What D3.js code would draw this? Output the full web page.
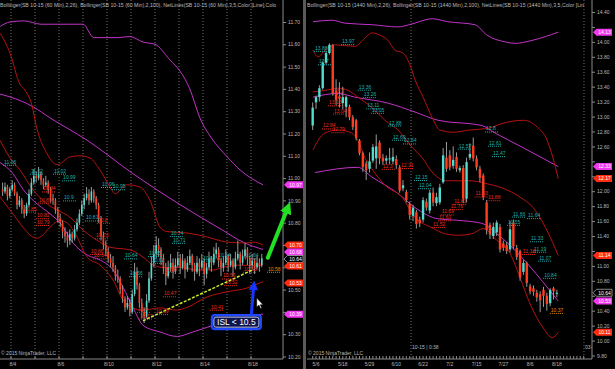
<!DOCTYPE html>
<html>
<head>
<meta charset="utf-8">
<script src="https://cdn.jsdelivr.net/npm/d3@7"></script>
<style>
body { margin: 0; background: #000; }
</style>
</head>
<body>
<div id="chart"></div>
<script>
var width = 615, height = 369;
var font = "'Liberation Sans', Arial, sans-serif";
var upCol = "#52dccf", downCol = "#ff3d1f", wickCol = "#9a9a9a";
var bandRed = "#b51212", bandMag = "#c233c8";
var netCol = { c: "#1fb0ad", r: "#ee2a1c", o: "#e38c00" };
var tagCol = { m: "#f038f0", r: "#ff2c10", k: "#000" };
var textCol = "#b8b8b8";

// ---- 60 min bars [open, high, low, close]
var leftBars = [
  [10.95,10.98,10.92,10.94],[10.94,10.98,10.93,10.96],[10.96,10.97,10.90,10.92],[10.92,10.96,10.91,10.95],
  [10.95,10.99,10.94,10.97],[10.97,10.98,10.92,10.93],[10.93,10.94,10.86,10.88],[10.88,10.92,10.87,10.90],
  [10.90,10.91,10.84,10.86],[10.86,10.88,10.82,10.84],[10.84,10.89,10.83,10.88],[10.88,10.95,10.87,10.93],
  [10.93,11.00,10.92,10.98],[10.98,11.04,10.97,11.01],[11.01,11.03,10.98,11.00],[11.00,11.05,10.99,11.02],
  [11.02,11.03,10.97,10.99],[10.99,11.00,10.95,10.97],[10.97,11.01,10.96,10.98],[10.98,10.99,10.93,10.95],
  [10.95,10.96,10.89,10.91],[10.91,10.93,10.88,10.90],[10.90,10.91,10.84,10.86],[10.86,10.87,10.80,10.82],
  [10.82,10.84,10.78,10.80],[10.80,10.81,10.73,10.76],[10.76,10.78,10.71,10.74],[10.74,10.76,10.69,10.72],
  [10.72,10.77,10.70,10.75],[10.75,10.76,10.71,10.73],[10.73,10.79,10.72,10.77],[10.77,10.82,10.76,10.80],
  [10.80,10.86,10.79,10.84],[10.84,10.90,10.83,10.88],[10.88,10.93,10.86,10.91],[10.91,10.96,10.90,10.93],
  [10.93,10.95,10.88,10.90],[10.90,10.96,10.89,10.94],[10.94,10.95,10.89,10.91],[10.91,10.92,10.86,10.88],
  [10.88,10.89,10.80,10.82],[10.82,10.83,10.72,10.74],[10.74,10.76,10.68,10.70],[10.70,10.72,10.65,10.67],
  [10.67,10.69,10.62,10.64],[10.64,10.66,10.60,10.62],[10.62,10.65,10.58,10.60],[10.60,10.61,10.54,10.56],
  [10.56,10.59,10.53,10.55],[10.55,10.56,10.48,10.50],[10.50,10.52,10.44,10.46],[10.46,10.47,10.40,10.42],
  [10.42,10.47,10.41,10.44],[10.44,10.46,10.38,10.40],[10.40,10.50,10.39,10.48],[10.48,10.62,10.47,10.58],
  [10.58,10.60,10.50,10.52],[10.52,10.53,10.42,10.44],[10.44,10.46,10.37,10.40],[10.40,10.42,10.35,10.38],
  [10.38,10.48,10.37,10.45],[10.45,10.58,10.44,10.55],[10.55,10.65,10.54,10.62],[10.62,10.70,10.60,10.66],
  [10.66,10.74,10.64,10.70],[10.70,10.73,10.65,10.68],[10.68,10.69,10.61,10.64],[10.64,10.66,10.57,10.60],
  [10.60,10.62,10.52,10.56],[10.56,10.63,10.55,10.60],[10.60,10.66,10.58,10.62],[10.62,10.64,10.55,10.58],
  [10.58,10.64,10.57,10.61],[10.61,10.67,10.60,10.64],[10.64,10.66,10.57,10.60],[10.60,10.66,10.59,10.63],
  [10.63,10.64,10.55,10.59],[10.59,10.65,10.58,10.62],[10.62,10.68,10.61,10.65],[10.65,10.66,10.58,10.61],
  [10.61,10.62,10.54,10.58],[10.58,10.65,10.57,10.62],[10.62,10.64,10.56,10.60],[10.60,10.66,10.59,10.63],
  [10.63,10.64,10.52,10.57],[10.57,10.62,10.55,10.60],[10.60,10.67,10.59,10.64],[10.64,10.65,10.58,10.62],
  [10.62,10.69,10.61,10.66],[10.66,10.71,10.64,10.68],[10.68,10.69,10.60,10.63],[10.63,10.64,10.56,10.60],
  [10.60,10.65,10.58,10.62],[10.62,10.68,10.61,10.65],[10.65,10.66,10.58,10.61],[10.61,10.66,10.60,10.63],
  [10.63,10.64,10.56,10.60],[10.60,10.67,10.59,10.64],[10.64,10.72,10.63,10.66],[10.66,10.67,10.59,10.62],
  [10.62,10.68,10.61,10.65],[10.65,10.71,10.64,10.68],[10.68,10.69,10.61,10.64],[10.64,10.65,10.57,10.61],
  [10.61,10.66,10.59,10.63],[10.63,10.64,10.57,10.60],[10.60,10.65,10.59,10.62],[10.62,10.64,10.58,10.61],
  [10.61,10.66,10.60,10.64]
];

// ---- daily bars [open, high, low, close]
var rightBars = [
  [12.88,13.19,12.82,13.12],[13.19,13.28,13.10,13.26],[13.26,13.42,13.20,13.38],[13.38,13.74,13.36,13.72],
  [13.72,13.88,13.70,13.85],[13.85,13.98,13.83,13.96],[13.96,13.97,13.28,13.31],[13.35,13.50,13.15,13.22],
  [13.27,13.46,13.12,13.24],[13.18,13.40,13.10,13.26],[13.13,13.28,12.99,13.26],[13.13,13.16,12.95,12.99],
  [12.99,13.02,12.82,12.86],[12.95,12.97,12.68,12.71],[12.68,12.70,12.48,12.51],[12.51,12.53,12.26,12.32],
  [12.37,12.40,12.15,12.28],[12.30,12.52,12.25,12.40],[12.41,12.63,12.38,12.59],[12.44,12.76,12.30,12.60],
  [12.65,12.68,12.36,12.44],[12.45,12.50,12.35,12.40],[12.41,12.48,12.36,12.44],[12.43,12.58,12.36,12.44],
  [12.40,12.58,12.36,12.46],[12.43,12.48,12.30,12.35],[12.32,12.35,11.98,12.01],[12.04,12.15,12.00,12.08],
  [11.99,12.02,11.85,11.88],[11.83,11.86,11.62,11.68],[11.67,11.82,11.60,11.78],[11.72,11.75,11.50,11.56],
  [11.62,11.66,11.52,11.57],[11.62,11.92,11.58,11.88],[11.86,11.90,11.74,11.78],[11.74,12.02,11.70,11.98],
  [11.98,12.05,11.80,11.85],[11.84,11.98,11.80,11.92],[11.85,12.10,11.82,12.05],[12.12,12.58,12.10,12.48],
  [12.45,12.66,12.26,12.30],[12.48,12.55,12.28,12.32],[12.34,12.60,12.30,12.42],[12.46,12.52,12.26,12.30],
  [12.28,12.34,12.25,12.31],[12.31,12.35,11.84,11.90],[11.90,12.45,11.85,12.39],[12.45,12.64,12.42,12.50],
  [12.61,12.72,12.40,12.44],[12.44,12.48,12.28,12.32],[12.30,12.34,12.12,12.18],[12.21,12.24,11.88,11.92],
  [11.85,11.88,11.42,11.48],[11.55,11.58,11.36,11.42],[11.40,11.58,11.36,11.52],[11.45,11.61,11.40,11.58],
  [11.52,11.56,11.18,11.22],[11.30,11.34,11.20,11.24],[11.28,11.32,11.16,11.20],[11.22,11.60,11.18,11.49],
  [11.58,11.62,11.22,11.26],[11.24,11.28,11.08,11.12],[11.20,11.22,10.80,10.84],[10.92,11.08,10.88,11.04],
  [11.04,11.06,10.72,10.77],[10.73,10.76,10.62,10.66],[10.70,10.74,10.60,10.65],[10.64,10.68,10.52,10.58],
  [10.62,10.66,10.38,10.54],[10.68,10.72,10.45,10.60],[10.60,10.64,10.40,10.49],[10.50,10.70,10.46,10.68],
  [10.70,10.72,10.55,10.66],[10.63,10.68,10.58,10.64]
];

// ---- dates
var leftDays = ["8/4", "8/6", "8/10", "8/12", "8/14", "8/18"];
var leftDayBars = [4, 24, 44, 64, 84, 104];
var leftSessionBars = [4, 14, 24, 34, 44, 54, 64, 74, 84, 94, 104];
var rightDays = ["5/6", "5/18", "5/29", "6/10", "6/22", "7/2", "7/15", "7/27", "8/6", "8/18"];
var rightDayBars = [1, 9, 17, 25, 33, 41, 49, 57, 65, 73];
var rightMarkBars = [29.9, 81.6];

// ---- Bollinger bands [bar, value]
var leftUpper26 = [[-1,11.65],[3.1,11.56],[7.25,11.42],[9.3,11.395],[12.7,11.305],[13.5,11.26],[18.5,11.11],[22.7,11.06],[28.1,11.095],[32.25,11.10],[36.4,11.09],[40.6,11.036],[44.75,10.96],[46.8,10.93],[51.8,10.97],[57.25,10.96],[61.4,10.90],[65.6,10.78],[68.5,10.76],[76.8,10.754],[85.2,10.736],[93.5,10.713],[101.8,10.709],[104.4,10.713],[108.5,10.70]];
var leftMid26 = [[-1.1,11.17],[3.1,11.09],[7.25,11.036],[12.7,10.947],[19.75,10.875],[23.9,10.85],[26.8,10.835],[33.5,10.767],[40.6,10.713],[44.75,10.69],[53.1,10.678],[58.5,10.646],[62.7,10.61],[68.5,10.597],[73.9,10.60],[81,10.588],[87.7,10.588],[91.8,10.60],[98.9,10.61],[106,10.606],[108.5,10.612]];
var leftLower26 = [[-1.1,10.915],[3.1,10.857],[8.5,10.78],[11.4,10.745],[14.3,10.73],[16.8,10.745],[19.75,10.78],[23.9,10.81],[26.8,10.80],[31,10.736],[35.2,10.646],[40.6,10.61],[46,10.543],[50.2,10.453],[54.3,10.418],[58.5,10.408],[65.6,10.418],[72.6,10.408],[76.8,10.42],[85.2,10.467],[93.5,10.49],[101.8,10.507],[106,10.525],[108.5,10.535]];
var leftUpper100 = [[-1,11.68],[3,11.70],[9,11.705],[16,11.69],[27,11.69],[33.5,11.69],[38,11.63],[48,11.63],[53,11.635],[58.5,11.61],[63.5,11.60],[69.7,11.53],[73.9,11.48],[78,11.40],[82.2,11.27],[87,11.18],[93.6,11.095],[99,11.036],[108.5,10.97]];
var leftMid100 = [[-1.1,11.377],[3.1,11.364],[12.7,11.32],[19.75,11.27],[35.2,11.17],[54.3,11.02],[72.6,10.89],[91.1,10.77],[100.7,10.71],[108.5,10.68]];
var leftLower100 = [[-1.1,11.07],[4.3,11.02],[8.5,10.95],[12.7,10.90],[19.75,10.84],[23.9,10.80],[29.3,10.71],[35.2,10.655],[40.6,10.633],[46,10.588],[50.2,10.51],[54.3,10.42],[58.5,10.34],[65.6,10.31],[72.6,10.29],[79.3,10.31],[87.75,10.34],[96.1,10.37],[104.4,10.386],[108.5,10.39]];

var rightUpper26 = [[0.1,13.89],[1.6,13.80],[3.7,13.89],[6.7,13.96],[12.6,13.94],[15.6,14.05],[17.7,14.12],[20.1,14.09],[22.5,14.02],[24.6,13.89],[27,13.85],[29.1,13.69],[30.6,13.49],[33,13.26],[35.7,12.99],[38,12.82],[42,12.79],[47,12.82],[52.1,12.84],[56.9,12.91],[62.9,12.95],[67.1,12.86],[70.1,12.68],[71.8,12.45],[73.4,12.17]];
var rightMid26 = [[0,13.33],[3.7,13.35],[7.6,13.38],[10.6,13.35],[13.5,13.26],[17.7,13.12],[21.6,12.95],[25.5,12.82],[29.7,12.59],[32.7,12.45],[36,12.24],[40.1,12.14],[47,12.14],[52.1,12.10],[56.9,12.04],[62,11.92],[65.9,11.78],[70.1,11.47],[73.4,11.14]];
var rightLower26 = [[0.1,12.55],[1.6,12.68],[3.7,12.78],[7.6,12.82],[11.7,12.78],[13.5,12.68],[15.6,12.45],[17.7,12.30],[21.6,12.08],[26.7,11.92],[30.6,11.65],[35.7,11.51],[39.6,11.43],[43.4,11.41],[47.6,11.43],[50.9,11.50],[55.1,11.34],[59,11.17],[62,10.84],[65,10.49],[68.9,10.17],[71.6,10.04],[73.4,10.11]];
var rightUpper100 = [[0.1,14.27],[5.8,14.29],[9.7,14.25],[17.7,14.23],[25.5,14.20],[29.7,14.24],[35.7,14.31],[40.4,14.27],[48.5,14.23],[52.1,14.09],[57.5,14.00],[60.5,13.98],[65.6,14.02],[73.4,14.13]];
var rightMid100 = [[0.1,13.26],[7.6,13.31],[12.6,13.26],[22.5,13.18],[30.6,13.06],[37.5,12.95],[50.6,12.88],[54.5,12.78],[62.6,12.59],[73.4,12.33]];
var rightLower100 = [[0.7,12.25],[13.5,12.32],[17.7,12.19],[25.5,11.97],[30.6,11.78],[37.5,11.63],[43.4,11.61],[50.6,11.57],[54.5,11.45],[73.4,10.53]];

// ---- NetLines labels [bar, text, colour]
var leftNet = [
  [0.2,"11.06","c"],[11.4,"11.02","c"],[16.4,"10.94","r"],[21,"11.02","c"],[24.8,"10.99","c"],
  [14.8,"10.89","r"],[25.2,"10.9","c"],[8.5,"10.85","r"],[13.9,"10.82","r"],[13.9,"10.79","r"],
  [41,"10.96","c"],[45.6,"10.95","c"],[34.3,"10.81","c"],[39.3,"10.8","r"],[38.5,"10.73","r"],
  [36.4,"10.66","r"],[37.7,"10.64","r"],[50.6,"10.64","c"],[52.7,"10.56","c"],[69.7,"10.74","c"],
  [70.6,"10.71","c"],[60.6,"10.65","c"],[61.8,"10.62","c"],[83.1,"10.63","c"],[89.4,"10.64","c"],
  [101,"10.64","c"],[66.8,"10.58","r"],[66.8,"10.47","r"],[86.4,"10.41","r"],[91.4,"10.55","r"],
  [92.3,"10.52","r"],[100.2,"10.58","r"],[110.2,"10.58","o"],[56,"10.4","r"],[56.8,"10.37","r"],
  [63.5,"10.39","r"]
];
var rightNet = [
  [8.5,"13.97","c"],[0.4,"13.88","c"],[1.6,"13.7","c"],[6.1,"13.3","r"],[13.5,"13.36","c"],
  [15,"13.26","c"],[16,"13.11","c"],[17.4,"13.05","c"],[4.6,"13.15","r"],[6.1,"13.04","r"],
  [2.8,"12.84","r"],[5.6,"12.79","r"],[22.5,"12.88","c"],[23.7,"12.69","c"],[27,"12.64","c"],
  [20.7,"12.3","r"],[26.1,"12.31","r"],[30.3,"12.15","c"],[31.5,"12.04","c"],[42,"11.83","r"],
  [41,"11.76","r"],[38.3,"11.69","r"],[37.5,"11.61","r"],[35.7,"11.52","r"],[43.4,"12.57","c"],
  [51.5,"12.8","c"],[52.4,"12.61","c"],[53.6,"12.47","c"],[48.4,"11.93","r"],[52.2,"11.88","r"],
  [59.6,"11.66","c"],[64.1,"11.64","c"],[58.1,"11.55","c"],[65,"11.33","c"],[65.9,"11.19","c"],
  [67.4,"11.07","c"],[62.6,"11.16","r"],[68.9,"10.84","c"],[70.9,"10.37","o"]
];

// ---- price tags on the axes [value, colour]
var leftTags = [[10.97,"m"],[10.70,"r"],[10.68,"m"],[10.64,"k"],[10.61,"r"],[10.53,"r"],[10.39,"m"]];
var rightTags = [[14.13,"m"],[12.33,"m"],[12.17,"r"],[11.14,"r"],[10.64,"k"],[10.53,"m"],[10.11,"r"]];

// ---- drawings on the 60 min chart [bar, value]
var trendLine = [[58.5,10.36],[104.5,10.59]];
var greenArrow = [[111,10.643],[119,10.858]];
var blueArrow = [[104,10.37],[105.1,10.51]];
var islBox = [97.9, 10.354];
var islText = "ISL < 10.5";
var cursorAt = [106.4, 10.462];

var leftHeader = "Bollinger(SB 10-15 (60 Min),2,26), Bollinger(SB 10-15 (60 Min),2,100), NetLines(SB 10-15 (60 Min),3,5,Color [Line],Colo";
var rightHeader = "Bollinger(SB 10-15 (1440 Min),2,26), Bollinger(SB 10-15 (1440 Min),2,100), NetLines(SB 10-15 (1440 Min),3,5,Color [Lin";

var svg = d3.select("#chart").append("svg")
    .attr("width", width)
    .attr("height", height)
    .style("display", "block")
    .style("background", "#000")
    .style("font-family", font);

var defs = svg.append("defs");
defs.append("marker").attr("id", "ghead").attr("viewBox", "0 0 10 10")
    .attr("refX", 3).attr("refY", 5).attr("markerWidth", 3).attr("markerHeight", 3)
    .attr("orient", "auto")
  .append("path").attr("d", "M0,0L10,5L0,10z").attr("fill", "#22e022");
defs.append("marker").attr("id", "bhead").attr("viewBox", "0 0 10 10")
    .attr("refX", 3).attr("refY", 5).attr("markerWidth", 3.2).attr("markerHeight", 3.2)
    .attr("orient", "auto")
  .append("path").attr("d", "M0,0L10,5L0,10z").attr("fill", "#1536ff");

// tags are stacked so they do not sit on top of each other
function stackTags(tags, y) {
    var out = tags.map(function(t){ return { v: t[0], c: t[1], y: y(t[0]) }; })
        .sort(function(a, b){ return a.y - b.y; });
    for (var i = 1; i < out.length; i++) {
        if (out[i].y - out[i - 1].y < 7) out[i].y = out[i - 1].y + 7;
    }
    return out;
}

function drawPanel(p) {
    var x = p.x, y = p.y;
    var g = svg.append("g");
    defs.append("clipPath").attr("id", p.id).append("rect")
        .attr("x", p.left).attr("y", 0).attr("width", p.axisX - p.left).attr("height", 359);
    var plot = g.append("g").attr("clip-path", "url(#" + p.id + ")");

    // vertical dotted lines
    plot.selectAll(".vgrid").data(p.vlines).enter().append("line")
        .attr("x1", function(d){ return x(d); }).attr("x2", function(d){ return x(d); })
        .attr("y1", 0).attr("y2", 359)
        .style("stroke", "#707070").style("stroke-dasharray", "1,2").style("stroke-width", 1);

    // bands
    var line = d3.line()
        .x(function(d){ return x(d[0] + 0.5); })
        .y(function(d){ return y(d[1]); })
        .curve(d3.curveMonotoneX);
    p.bands.forEach(function(b){
        plot.append("path").datum(b[0]).attr("d", line)
            .style("fill", "none").style("stroke", b[1]).style("stroke-width", 1);
    });

    // candles
    var c = plot.selectAll(".bar").data(p.bars).enter().append("g");
    c.append("line")
        .attr("x1", function(d, i){ return x(i + 0.5); })
        .attr("x2", function(d, i){ return x(i + 0.5); })
        .attr("y1", function(d){ return y(d[1]); })
        .attr("y2", function(d){ return y(d[2]); })
        .style("stroke", wickCol).style("stroke-width", 1);
    c.append("rect")
        .attr("x", function(d, i){ return x(i + 0.5) - p.bodyW / 2; })
        .attr("y", function(d){ return y(Math.max(d[0], d[3])); })
        .attr("width", p.bodyW)
        .attr("height", function(d){ return Math.max(1, Math.abs(y(d[0]) - y(d[3]))); })
        .style("fill", function(d){ return d[3] >= d[0] ? upCol : downCol; });

    // NetLines labels
    var n = plot.selectAll(".net").data(p.net).enter().append("g");
    n.append("line")
        .attr("x1", function(d){ return x(d[0] + 0.5); })
        .attr("x2", function(d){ return x(d[0] + 0.5) + 14; })
        .attr("y1", function(d){ return y(+d[1]) + 0.5; })
        .attr("y2", function(d){ return y(+d[1]) + 0.5; })
        .style("stroke", function(d){ return netCol[d[2]]; })
        .style("stroke-dasharray", "1,1").style("stroke-width", 1);
    n.append("text")
        .attr("x", function(d){ return x(d[0] + 0.5) + 1; })
        .attr("y", function(d){ return y(+d[1]) - 1; })
        .style("fill", function(d){ return netCol[d[2]]; })
        .style("font-size", "5px")
        .text(function(d){ return d[1]; });

    // header
    plot.append("text").attr("x", p.left).attr("y", 7)
        .style("fill", textCol).style("font-size", "5.2px").text(p.header);

    // y axis, labels hidden where a price tag covers them
    var tags = stackTags(p.tags, y);
    var ticks = p.yticks.filter(function(v){
        return !tags.some(function(t){ return Math.abs(t.y - y(v)) < 6; });
    });
    var ax = g.append("g").attr("transform", "translate(" + p.axisX + ",0)")
        .call(d3.axisRight(y).tickValues(p.yticks).tickFormat(function(v){
            return ticks.indexOf(v) >= 0 ? d3.format(".2f")(v) : "";
        }).tickSize(3).tickSizeOuter(0).tickPadding(2));
    ax.select(".domain").remove();
    ax.selectAll("line").style("stroke", "#8a8a8a");
    ax.selectAll("text").style("fill", textCol).style("font-size", "5px").style("font-family", font);
    g.append("line").attr("x1", p.axisX).attr("x2", p.axisX).attr("y1", 0).attr("y2", 359)
        .style("stroke", "#8a8a8a").style("stroke-width", 1);

    // x axis
    g.append("line").attr("x1", p.left).attr("x2", p.axisX).attr("y1", 359).attr("y2", 359)
        .style("stroke", "#8a8a8a").style("stroke-width", 1);
    g.selectAll(".xt").data(p.xticks).enter().append("line")
        .attr("x1", function(d){ return x(d); }).attr("x2", function(d){ return x(d); })
        .attr("y1", 356).attr("y2", 359)
        .style("stroke", "#8a8a8a").style("stroke-width", 1);
    g.selectAll(".xl").data(p.days).enter().append("text")
        .attr("x", function(d, i){ return x(p.dayBars[i] + p.dayShift); })
        .attr("y", 366)
        .attr("text-anchor", "middle")
        .style("fill", textCol).style("font-size", "5px")
        .text(function(d){ return d; });

    g.append("text").attr("x", p.left + 1).attr("y", 355)
        .style("fill", textCol).style("font-size", "5px").text("\u00a9 2015 NinjaTrader, LLC");

    // price tags
    var t = g.selectAll(".tag").data(tags).enter().append("g")
        .attr("transform", function(d){ return "translate(" + p.axisX + "," + d.y + ")"; });
    t.append("path").attr("d", "M1,0L4.5,-3.5L20,-3.5L20,3.5L4.5,3.5Z")
        .style("fill", function(d){ return tagCol[d.c]; })
        .style("stroke", function(d){ return d.c === "k" ? "#aaa" : "none"; })
        .style("stroke-width", 0.8);
    t.append("text").attr("x", 12.5).attr("y", 1.8).attr("text-anchor", "middle")
        .style("fill", "#fff").style("font-size", "5px")
        .text(function(d){ return d3.format(".2f")(d.v); });
    return g;
}

var xL = d3.scaleLinear().domain([0, 117]).range([1.4, 282.2]);
var yL = d3.scaleLinear().domain([10.2, 11.7]).range([356.5, 22]);
var xR = d3.scaleLinear().domain([0, 84]).range([311, 592]);
var yR = d3.scaleLinear().domain([9.8, 14.4]).range([355.5, 12]);

var gl = drawPanel({
    id: "clipL", left: 0, axisX: 283, x: xL, y: yL, bars: leftBars, bodyW: 1.6,
    vlines: leftSessionBars, xticks: leftSessionBars, days: leftDays, dayBars: leftDayBars, dayShift: 0.8,
    bands: [[leftUpper100, bandMag], [leftMid100, bandMag], [leftLower100, bandMag],
            [leftUpper26, bandRed], [leftMid26, bandRed], [leftLower26, bandRed]],
    net: leftNet, tags: leftTags, header: leftHeader,
    yticks: d3.range(102, 118).map(function(d){ return d / 10; })
});

var gr = drawPanel({
    id: "clipR", left: 307, axisX: 592, x: xR, y: yR, bars: rightBars, bodyW: 2.4,
    vlines: rightMarkBars, xticks: d3.range(0, 82).map(function(d){ return d + 0.5; }),
    days: rightDays, dayBars: rightDayBars, dayShift: 0.5,
    bands: [[rightUpper100, bandMag], [rightMid100, bandMag], [rightLower100, bandMag],
            [rightUpper26, bandRed], [rightMid26, bandRed], [rightLower26, bandRed]],
    net: rightNet, tags: rightTags, header: rightHeader,
    yticks: d3.range(49, 73).map(function(d){ return d / 5; })
});

gr.append("text").attr("x", xR(rightMarkBars[0]) + 1).attr("y", 349)
    .style("fill", textCol).style("font-size", "5px").text("10-15 | 0:38");
gr.append("text").attr("x", xR(rightMarkBars[1]) + 1).attr("y", 349)
    .style("fill", textCol).style("font-size", "5px").text("03-");

// panel separator
svg.append("rect").attr("x", 303).attr("y", 0).attr("width", 3).attr("height", height)
    .style("fill", "#5a5a5a");

// trend line and annotations on the 60 min chart
gl.append("line")
    .attr("x1", xL(trendLine[0][0] + 0.5)).attr("y1", yL(trendLine[0][1]))
    .attr("x2", xL(trendLine[1][0] + 0.5)).attr("y2", yL(trendLine[1][1]))
    .style("stroke", "#c8ec2a").style("stroke-width", 1.5).style("stroke-dasharray", "3,1.5");

gl.append("line")
    .attr("x1", xL(greenArrow[0][0])).attr("y1", yL(greenArrow[0][1]))
    .attr("x2", xL(greenArrow[1][0])).attr("y2", yL(greenArrow[1][1]))
    .style("stroke", "#22e022").style("stroke-width", 4).style("stroke-linecap", "round")
    .attr("marker-end", "url(#ghead)");

gl.append("line")
    .attr("x1", xL(blueArrow[0][0])).attr("y1", yL(blueArrow[0][1]))
    .attr("x2", xL(blueArrow[1][0])).attr("y2", yL(blueArrow[1][1]))
    .style("stroke", "#1536ff").style("stroke-width", 3)
    .attr("marker-end", "url(#bhead)");

var bx = xL(islBox[0]), by = yL(islBox[1]);
gl.append("rect").attr("x", bx - 24.5).attr("y", by - 7).attr("width", 49).attr("height", 14)
    .attr("rx", 3).style("fill", "#0a1450").style("stroke", "#1f48ff").style("stroke-width", 2.2);
gl.append("rect").attr("x", bx - 22.5).attr("y", by - 5).attr("width", 45).attr("height", 10)
    .attr("rx", 2).style("fill", "none").style("stroke", "#e8eeff").style("stroke-width", 0.8);
gl.append("text").attr("x", bx).attr("y", by + 3).attr("text-anchor", "middle")
    .style("fill", "#fff").style("font-size", "8.5px").text(islText);

gl.append("path")
    .attr("transform", "translate(" + xL(cursorAt[0]) + "," + yL(cursorAt[1]) + ")")
    .attr("d", "M0,0L0,9L2.2,7L3.8,10.5L5,10L3.5,6.6L6.3,6.6Z")
    .style("fill", "#fff").style("stroke", "#000").style("stroke-width", 0.5);
</script>
</body>
</html>
